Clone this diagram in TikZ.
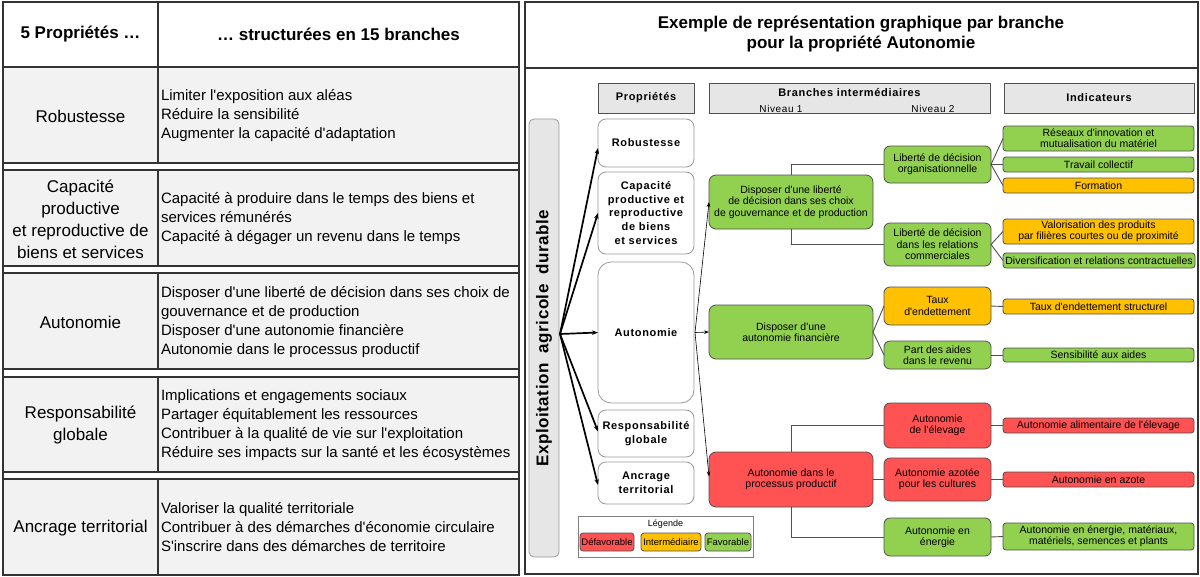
\documentclass[tikz,border=0pt]{standalone}
\usepackage{fontspec}
\defaultfontfeatures[\rmfamily,\sffamily]{}
\setmainfont{Liberation Sans}
\newfontfamily\lsp[LetterSpace=6]{Liberation Sans}
\newfontfamily\lspv[LetterSpace=3]{Liberation Sans}
\usetikzlibrary{arrows.meta}
\definecolor{cgreen}{HTML}{92D050}
\definecolor{corange}{HTML}{FFC000}
\definecolor{cred}{HTML}{FF5353}
\definecolor{cgray}{HTML}{F2F2F2}
\definecolor{hgray}{HTML}{E6E6E6}
\definecolor{bline}{HTML}{333333}
\definecolor{bord}{HTML}{505050}
\begin{document}
\begin{tikzpicture}[x=1pt,y=-1pt,
  every node/.style={inner sep=0pt, outer sep=0pt},
  cellA/.style={draw=bline, line width=1.3pt, fill=cgray},
  lefthead/.style={font=\bfseries\fontsize{17}{20}\selectfont},
  leftlab/.style={align=center, font=\fontsize{17}{22}\selectfont},
  lefttxt/.style={anchor=west, align=left, font=\fontsize{15}{19}\selectfont},
  hbox/.style={draw=bord, fill=hgray, line width=0.8pt},
  htxt/.style={font=\lsp\bfseries\fontsize{11}{13}\selectfont},
  pbox/.style={draw=gray!80, fill=white, line width=0.8pt, rounded corners=8pt, align=center, font=\lsp\bfseries\fontsize{11}{13.7}\selectfont},
  lbox/.style={draw=bord, line width=0.8pt, rounded corners=7pt, align=center, font=\fontsize{10.5}{11.4}\selectfont},
  ibox/.style={draw=bord, line width=0.8pt, rounded corners=3pt, align=center, minimum width=191pt, font=\fontsize{10.5}{11}\selectfont},
  conn/.style={draw=bord, line width=0.9pt},
  bigarrow/.style={-{Stealth[length=6pt,width=4.5pt]}, line width=1.7pt, black},
  smallarrow/.style={-{Stealth[length=5pt,width=3.5pt]}, line width=0.6pt, black}
]
\useasboundingbox (0,0) rectangle (1200,576);
\fill[white] (0,0) rectangle (1200,576);

% ---------- left table ----------
\node[draw=bline, line width=1.3pt, fill=white, minimum width=155pt, minimum height=65pt, lefthead] (h1) at (80.5,34.5) {5 Propriétés …};
\node[draw=bline, line width=1.3pt, fill=white, minimum width=361pt, minimum height=65pt, lefthead] (h2) at (338.5,34.5) {… structurées en 15 branches};

\node[cellA, minimum width=155pt, minimum height=96pt] (r1a) at (80.5,115) {};
\node[cellA, minimum width=361pt, minimum height=96pt] (r1b) at (338.5,115) {};
\node[cellA, minimum width=155pt, minimum height=96pt] (r2a) at (80.5,218) {};
\node[cellA, minimum width=361pt, minimum height=96pt] (r2b) at (338.5,218) {};
\node[cellA, minimum width=155pt, minimum height=96pt] (r3a) at (80.5,321) {};
\node[cellA, minimum width=361pt, minimum height=96pt] (r3b) at (338.5,321) {};
\node[cellA, minimum width=155pt, minimum height=95pt] (r4a) at (80.5,424.5) {};
\node[cellA, minimum width=361pt, minimum height=95pt] (r4b) at (338.5,424.5) {};
\node[cellA, minimum width=155pt, minimum height=96pt] (r5a) at (80.5,527) {};
\node[cellA, minimum width=361pt, minimum height=96pt] (r5b) at (338.5,527) {};
\draw[bline, line width=1.3pt] (3,2) rectangle (519,575);

\node[leftlab] (l1) at (80.5,116) {Robustesse};
\node[leftlab] (l2) at (80.5,219) {Capacité\\productive\\et reproductive de\\biens et services};
\node[leftlab] (l3) at (80.5,322) {Autonomie};
\node[leftlab] (l4) at (80.5,425) {Responsabilité\\globale};
\node[leftlab] (l5) at (80.5,528) {Ancrage territorial};

\node[lefttxt] (t1) at (161,116) {Limiter l'exposition aux aléas\\Réduire la sensibilité\\Augmenter la capacité d'adaptation};
\node[lefttxt] (t2) at (161,219) {Capacité à produire dans le temps des biens et\\services rémunérés\\Capacité à dégager un revenu dans le temps};
\node[lefttxt] (t3) at (161,322) {Disposer d'une liberté de décision dans ses choix de\\gouvernance et de production\\Disposer d'une autonomie financière\\Autonomie dans le processus productif};
\node[lefttxt] (t4) at (161,425) {Implications et engagements sociaux\\Partager équitablement les ressources\\Contribuer à la qualité de vie sur l'exploitation\\Réduire ses impacts sur la santé et les écosystèmes};
\node[lefttxt] (t5) at (161,527) {Valoriser la qualité territoriale\\Contribuer à des démarches d'économie circulaire\\S'inscrire dans des démarches de territoire};

% ---------- right panel ----------
\draw[bline, line width=1.3pt] (525,2) rectangle (1198,574);
\draw[bline, line width=1.3pt] (525,68) -- (1198,68);
\node[align=center, font=\bfseries\fontsize{17}{19.5}\selectfont] (title) at (861,34) {Exemple de représentation graphique par branche\\pour la propriété Autonomie};

\node[hbox, minimum width=96pt, minimum height=30pt] (hP) at (646,98) {};
\node[htxt] (hPt) at (646,98) {Propriétés};
\node[hbox, minimum width=281pt, minimum height=30pt] (hB) at (849.5,98) {};
\node[htxt] (hBt) at (849.5,93) {Branches intermédiaires};
\node[font=\lsp\fontsize{10}{11}\selectfont] (n1) at (781,108.5) {Niveau 1};
\node[font=\lsp\fontsize{10}{11}\selectfont] (n2) at (933,108.5) {Niveau 2};
\node[hbox, minimum width=190pt, minimum height=30pt] (hI) at (1099,98) {};
\node[htxt] (hIt) at (1099,98) {Indicateurs};

\node[draw=gray!80, fill=hgray, line width=0.8pt, rounded corners=5pt, rotate=90, minimum width=438pt, minimum height=30pt, font=\lspv\bfseries\fontsize{17}{20}\selectfont] (vb) at (544,338) {Exploitation\hspace{5pt} agricole\hspace{5pt} durable};
\coordinate (O) at (560,334);

\node[pbox, minimum width=96pt, minimum height=48pt] (pR) at (646,143) {Robustesse};
\node[pbox, minimum width=96pt, minimum height=82pt] (pC) at (646,213) {Capacité\\productive et\\reproductive\\de biens\\et services};
\node[pbox, minimum width=96pt, minimum height=141pt, rounded corners=13pt] (pA) at (646,332.5) {Autonomie};
\node[pbox, minimum width=96pt, minimum height=47pt] (pG) at (646,433.5) {Responsabilité\\globale};
\node[pbox, minimum width=96pt, minimum height=42pt] (pT) at (646,483) {Ancrage\\territorial};

\draw[bigarrow] (O) -- ([yshift=-5pt]pR.west);
\draw[bigarrow] (O) -- (pC.west);
\draw[bigarrow] (O) -- (pA.west);
\draw[bigarrow] (O) -- ([yshift=2pt]pG.west);
\draw[bigarrow] (O) -- ([yshift=-2pt]pT.west);

% level 1
\node[lbox, fill=cgreen, minimum width=164pt, minimum height=54pt] (L1a) at (791,202) {Disposer d'une liberté\\de décision dans ses choix\\de gouvernance et de production};
\node[lbox, fill=cgreen, minimum width=164pt, minimum height=54pt] (L1b) at (791,332) {Disposer d'une\\autonomie financière};
\node[lbox, fill=cred, minimum width=164pt, minimum height=55pt] (L1c) at (791,479.5) {Autonomie dans le\\processus productif};

\draw[smallarrow] ([xshift=1pt]pA.east) -- (L1a.west);
\draw[smallarrow] ([xshift=1pt]pA.east) -- (L1b.west);
\draw[smallarrow] ([xshift=1pt]pA.east) -- ([yshift=3pt]L1c.west);

% level 2
\node[lbox, rounded corners=6pt, fill=cgreen, minimum width=107pt, minimum height=37pt] (L2a) at (937.5,164.5) {Liberté de décision\\organisationnelle};
\node[lbox, rounded corners=6pt, fill=cgreen, minimum width=107pt, minimum height=43pt] (L2b) at (937.5,244.5) {Liberté de décision\\dans les relations\\commerciales};
\node[lbox, rounded corners=6pt, fill=corange, minimum width=107pt, minimum height=38pt] (L2c) at (937.5,306) {Taux\\d'endettement};
\node[lbox, rounded corners=6pt, fill=cgreen, minimum width=107pt, minimum height=28pt] (L2d) at (937.5,355) {Part des aides\\dans le revenu};
\node[lbox, rounded corners=6pt, fill=cred, minimum width=107pt, minimum height=45pt] (L2e) at (937.5,425.5) {Autonomie\\de l'élevage};
\node[lbox, rounded corners=6pt, fill=cred, minimum width=107pt, minimum height=43pt] (L2f) at (937.5,479.5) {Autonomie azotée\\pour les cultures};
\node[lbox, rounded corners=6pt, fill=cgreen, minimum width=107pt, minimum height=38pt] (L2g) at (937.5,537) {Autonomie en\\énergie};

\draw[conn] (L1a.north) |- (L2a.west);
\draw[conn] (L1a.south) |- (L2b.west);
\draw[conn] (L1b.east) -- (L2c.west);
\draw[conn] (L1b.east) -- (L2d.west);
\draw[conn] (L1c.north) |- (L2e.west);
\draw[conn] (L1c.east) -- (L2f.west);
\draw[conn] (L1c.south) |- (L2g.west);

% indicators
\node[ibox, fill=cgreen, minimum height=25pt] (I1) at (1098.5,138.5) {Réseaux d'innovation et\\mutualisation du matériel};
\node[ibox, fill=cgreen, minimum height=15pt] (I2) at (1098.5,164.5) {Travail collectif};
\node[ibox, fill=corange, minimum height=15pt] (I3) at (1098.5,185.5) {Formation};
\node[ibox, fill=corange, minimum height=25pt] (I4) at (1098.5,231.5) {Valorisation des produits\\par filières courtes ou de proximité};
\node[ibox, fill=cgreen, minimum height=15pt, minimum width=192pt] (I5) at (1099,260.5) {Diversification et relations contractuelles};
\node[ibox, fill=corange, minimum height=15pt] (I6) at (1098.5,306.5) {Taux d'endettement structurel};
\node[ibox, fill=cgreen, minimum height=14pt] (I7) at (1098.5,355) {Sensibilité aux aides};
\node[ibox, fill=cred, minimum height=15pt] (I8) at (1098.5,425.5) {Autonomie alimentaire de l'élevage};
\node[ibox, fill=cred, minimum height=15pt] (I9) at (1098.5,479.5) {Autonomie en azote};
\node[ibox, fill=cgreen, minimum height=27pt] (I10) at (1098.5,536.5) {Autonomie en énergie, matériaux,\\matériels, semences et plants};

\draw[conn] (L2a.east) -- (I1.west);
\draw[conn] (L2a.east) -- (I2.west);
\draw[conn] (L2a.east) -- (I3.west);
\draw[conn] (L2b.east) -- (I4.west);
\draw[conn] (L2b.east) -- (I5.west);
\draw[conn] (L2c.east) -- (I6.west);
\draw[conn] (L2d.east) -- (I7.west);
\draw[conn] (L2e.east) -- (I8.west);
\draw[conn] (L2f.east) -- (I9.west);
\draw[conn] (L2g.east) -- (I10.west);

% legend
\node[draw=gray, line width=0.8pt, fill=white, minimum width=175pt, minimum height=41pt] (leg) at (665.5,536.5) {};
\node[font=\fontsize{9}{10}\selectfont] (legt) at (665.5,524) {Légende};
\node[lbox, rounded corners=3pt, fill=cred, minimum width=54pt, minimum height=18pt, font=\fontsize{9.5}{10}\selectfont] (ld) at (607,542) {Défavorable};
\node[lbox, rounded corners=3pt, fill=corange, minimum width=60pt, minimum height=18pt, font=\fontsize{9.5}{10}\selectfont] (li) at (671,542) {Intermédiaire};
\node[lbox, rounded corners=3pt, fill=cgreen, minimum width=46pt, minimum height=18pt, font=\fontsize{9.5}{10}\selectfont] (lf) at (728,542) {Favorable};
\end{tikzpicture}
\end{document}
